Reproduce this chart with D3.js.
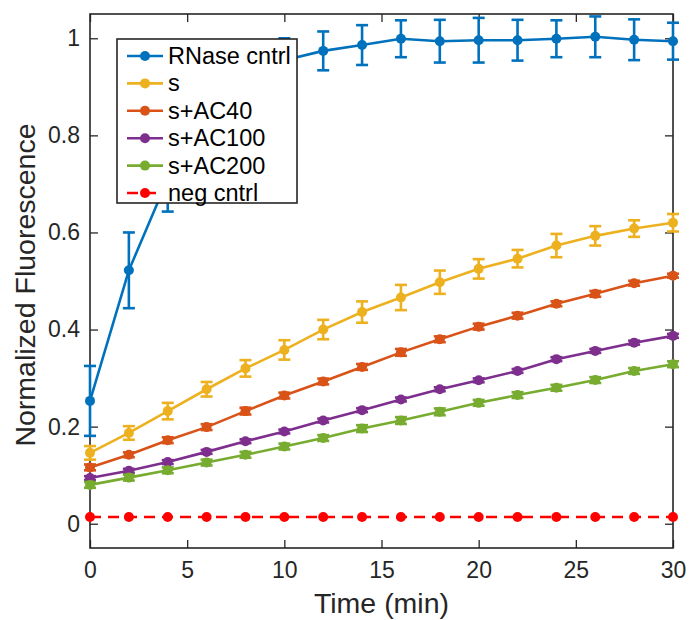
<!DOCTYPE html>
<html>
<head>
<meta charset="utf-8">
<script src="https://cdn.jsdelivr.net/npm/d3@7/dist/d3.min.js"></script>
<style>
  body { margin: 0; background: #fff; }
  svg { font-family: "Liberation Sans", Arial, Helvetica, sans-serif; }
  .axis path, .axis line { stroke: #262626; }
  .axis text { fill: #262626; font-size: 23px; }
</style>
</head>
<body>
<svg id="svg"></svg>
<script>
// time points (min)
var times = [0, 2, 4, 6, 8, 10, 12, 14, 16, 18, 20, 22, 24, 26, 28, 30];

var seriesNames = ["RNase cntrl", "s", "s+AC40", "s+AC100", "s+AC200", "neg cntrl"];
var seriesColors = ["#0072BD", "#EDB120", "#D95319", "#7E2F8E", "#77AC30", "#FF0000"];

var rnaseVals = [0.253, 0.522, 0.71, 0.85, 0.92, 0.955, 0.974, 0.986, 0.999, 0.994, 0.996, 0.996, 0.999, 1.003, 0.997, 0.994];
var rnaseErr  = [0.072, 0.078, 0.067, 0.06, 0.05, 0.045, 0.04, 0.041, 0.038, 0.044, 0.046, 0.042, 0.038, 0.042, 0.042, 0.038];

var sVals = [0.146, 0.187, 0.232, 0.277, 0.32, 0.358, 0.40, 0.436, 0.466, 0.4975, 0.525, 0.546, 0.573, 0.593, 0.608, 0.62];
var sErr  = [0.014, 0.014, 0.017, 0.015, 0.017, 0.02, 0.02, 0.022, 0.026, 0.024, 0.02, 0.018, 0.024, 0.02, 0.017, 0.018];

var ac40Vals = [0.116, 0.142, 0.172, 0.199, 0.232, 0.264, 0.293, 0.323, 0.353, 0.38, 0.406, 0.4286, 0.453, 0.4735, 0.4955, 0.511];
var ac40Err  = [0.006, 0.005, 0.006, 0.006, 0.007, 0.006, 0.006, 0.006, 0.007, 0.006, 0.006, 0.006, 0.005, 0.006, 0.005, 0.004];

var ac100Vals = [0.094, 0.109, 0.127, 0.148, 0.170, 0.190, 0.2126, 0.234, 0.256, 0.277, 0.2954, 0.3147, 0.339, 0.356, 0.373, 0.387];
var ac100Err  = [0.004, 0.004, 0.004, 0.004, 0.004, 0.004, 0.004, 0.004, 0.004, 0.004, 0.004, 0.004, 0.004, 0.004, 0.004, 0.004];

var ac200Vals = [0.080, 0.095, 0.110, 0.126, 0.142, 0.159, 0.1766, 0.196, 0.2126, 0.2305, 0.249, 0.265, 0.280, 0.296, 0.3147, 0.3286];
var ac200Err  = [0.006, 0.006, 0.006, 0.006, 0.006, 0.006, 0.006, 0.007, 0.007, 0.007, 0.006, 0.006, 0.006, 0.006, 0.006, 0.006];

var negVals = [0.014, 0.014, 0.014, 0.014, 0.014, 0.014, 0.014, 0.014, 0.014, 0.014, 0.014, 0.014, 0.014, 0.014, 0.014, 0.014];
var negErr  = [0, 0, 0, 0, 0, 0, 0, 0, 0, 0, 0, 0, 0, 0, 0, 0];

var xTicks = [0, 5, 10, 15, 20, 25, 30];
var yTicks = [0, 0.2, 0.4, 0.6, 0.8, 1];

var allVals = [rnaseVals, sVals, ac40Vals, ac100Vals, ac200Vals, negVals];
var allErr = [rnaseErr, sErr, ac40Err, ac100Err, ac200Err, negErr];

var width = 689, height = 620;
var margin = {top: 14, right: 16, bottom: 72, left: 90};
var w = width - margin.left - margin.right,
    h = height - margin.top - margin.bottom;

var svg = d3.select("#svg").attr("width", width).attr("height", height);
var g = svg.append("g").attr("transform", "translate(" + margin.left + "," + margin.top + ")");

var x = d3.scaleLinear().domain([0, 30]).range([0, w]);
var y = d3.scaleLinear().domain([-0.05, 1.05]).range([h, 0]);

// axes, matlab style box with inward ticks
var tickLen = 8;
g.append("g").attr("class", "axis")
  .attr("transform", "translate(0," + h + ")")
  .call(d3.axisBottom(x).tickValues(xTicks).tickSizeInner(-tickLen).tickSizeOuter(0).tickPadding(14))
  .call(function(s) { s.select(".domain").remove(); });
g.append("g").attr("class", "axis")
  .call(d3.axisTop(x).tickValues(xTicks).tickSizeInner(-tickLen).tickSizeOuter(0).tickFormat(""))
  .call(function(s) { s.select(".domain").remove(); });
g.append("g").attr("class", "axis")
  .call(d3.axisLeft(y).tickValues(yTicks).tickSizeInner(-tickLen).tickSizeOuter(0).tickPadding(10).tickFormat(d3.format("~g")))
  .call(function(s) { s.select(".domain").remove(); });
g.append("g").attr("class", "axis")
  .attr("transform", "translate(" + w + ",0)")
  .call(d3.axisRight(y).tickValues(yTicks).tickSizeInner(-tickLen).tickSizeOuter(0).tickFormat(""))
  .call(function(s) { s.select(".domain").remove(); });
g.selectAll(".axis line").attr("stroke-width", 1.3);

g.append("rect")
  .attr("width", w).attr("height", h)
  .attr("fill", "none").attr("stroke", "#262626").attr("stroke-width", 1.6);

// series
var line = d3.line()
  .x(function(d) { return x(d.t); })
  .y(function(d) { return y(d.v); });

allVals.forEach(function(vals, i) {
  var pts = times.map(function(t, j) { return {t: t, v: vals[j], e: allErr[i][j]}; });
  var col = seriesColors[i];
  var sg = g.append("g");

  sg.append("path")
    .datum(pts)
    .attr("fill", "none")
    .attr("stroke", col)
    .attr("stroke-width", 2.6)
    .attr("stroke-dasharray", i == 5 ? "11,7" : null)
    .attr("d", line);

  // error bars
  var eb = sg.selectAll(".eb").data(pts.filter(function(d) { return d.e > 0; })).enter().append("g");
  eb.append("line")
    .attr("x1", function(d) { return x(d.t); }).attr("x2", function(d) { return x(d.t); })
    .attr("y1", function(d) { return y(d.v - d.e); }).attr("y2", function(d) { return y(d.v + d.e); })
    .attr("stroke", col).attr("stroke-width", 2.6);
  [-1, 1].forEach(function(sgn) {
    eb.append("line")
      .attr("x1", function(d) { return x(d.t) - 6; }).attr("x2", function(d) { return x(d.t) + 6; })
      .attr("y1", function(d) { return y(d.v + sgn * d.e); }).attr("y2", function(d) { return y(d.v + sgn * d.e); })
      .attr("stroke", col).attr("stroke-width", 2.6);
  });

  sg.selectAll(".dot").data(pts).enter().append("circle")
    .attr("cx", function(d) { return x(d.t); })
    .attr("cy", function(d) { return y(d.v); })
    .attr("r", 5)
    .attr("fill", col);
});

// labels
svg.append("text")
  .attr("x", margin.left + w / 2).attr("y", 613)
  .attr("text-anchor", "middle")
  .attr("font-size", 28.5).attr("fill", "#262626")
  .text("Time (min)");
svg.append("text")
  .attr("transform", "translate(35," + 285 + ") rotate(-90)")
  .attr("text-anchor", "middle")
  .attr("font-size", 28.5).attr("fill", "#262626")
  .text("Normalized Fluorescence");

// legend
var lg = svg.append("g").attr("transform", "translate(117,39)");
lg.append("rect")
  .attr("width", 180).attr("height", 164)
  .attr("fill", "#fff").attr("stroke", "#262626").attr("stroke-width", 1.6);
seriesNames.forEach(function(name, i) {
  var ly = 17 + i * 27.4;
  lg.append("line")
    .attr("x1", 10).attr("x2", 46).attr("y1", ly).attr("y2", ly)
    .attr("stroke", seriesColors[i]).attr("stroke-width", 2.6)
    .attr("stroke-dasharray", i == 5 ? "11,7" : null);
  lg.append("circle").attr("cx", 28).attr("cy", ly).attr("r", 5).attr("fill", seriesColors[i]);
  lg.append("text")
    .attr("x", 51).attr("y", ly + 8)
    .attr("font-size", 23.5).attr("fill", "#000")
    .text(name);
});
</script>
</body>
</html>
